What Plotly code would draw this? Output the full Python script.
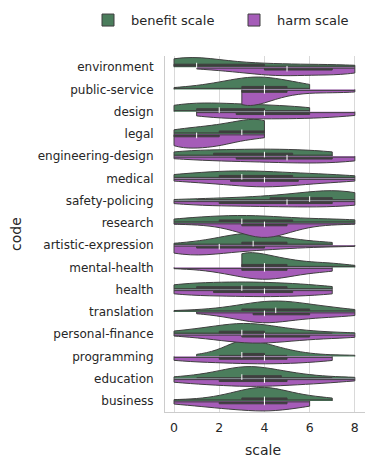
import numpy as np
import plotly.graph_objects as go

categories = ["environment", "public-service", "design", "legal", "engineering-design",
              "medical", "safety-policing", "research", "artistic-expression", "mental-health",
              "health", "translation", "personal-finance", "programming", "education", "business"]
scale_values = [0, 1, 2, 3, 4, 5, 6, 7, 8]
x_ticks = [0, 2, 4, 6, 8]

# number of responses at each scale value (0..8)
benefit_counts = [
    [10, 10, 4, 3, 3, 2, 2, 2, 2],   # environment
    [1, 2, 4, 7, 8, 5, 3, 0, 0],     # public-service
    [5, 5, 5, 4, 4, 3, 3, 0, 0],     # design
    [2, 3, 4, 6, 8, 0, 0, 0, 0],     # legal
    [3, 3, 3, 3, 4, 3, 3, 3, 0],     # engineering-design
    [3, 3, 4, 5, 4, 3, 3, 2, 2],     # medical
    [1, 1, 2, 2, 3, 4, 6, 8, 8],     # safety-policing
    [3, 3, 4, 5, 4, 3, 2, 2, 3],     # research
    [1, 2, 4, 8, 7, 4, 2, 2, 0],     # artistic-expression
    [0, 0, 0, 12, 8, 5, 3, 3, 1],    # mental-health
    [4, 4, 4, 5, 4, 4, 3, 2, 0],     # health
    [1, 1, 2, 4, 7, 7, 4, 3, 1],     # translation
    [2, 3, 5, 8, 6, 3, 2, 1, 1],     # personal-finance
    [0, 1, 4, 15, 10, 5, 2, 1, 1],   # programming
    [1, 2, 4, 9, 7, 4, 2, 1, 1],     # education
    [1, 1, 3, 7, 11, 6, 3, 2, 0],    # business
]
harm_counts = [
    [0, 1, 2, 3, 5, 6, 4, 5, 5],     # environment
    [0, 0, 0, 14, 8, 3, 2, 2, 2],    # public-service
    [0, 3, 4, 4, 4, 4, 4, 3, 3],     # design
    [7, 7, 6, 3, 2, 0, 0, 0, 0],     # legal
    [2, 2, 3, 3, 3, 4, 4, 4, 4],     # engineering-design
    [2, 2, 3, 4, 6, 4, 3, 2, 2],     # medical
    [2, 3, 3, 3, 3, 4, 3, 4, 4],     # safety-policing
    [1, 1, 2, 6, 12, 6, 2, 1, 1],    # research
    [7, 7, 5, 3, 3, 2, 1, 1, 1],     # artistic-expression
    [1, 1, 3, 6, 9, 6, 3, 3, 0],     # mental-health
    [3, 3, 3, 3, 4, 3, 3, 3, 0],     # health
    [0, 1, 2, 5, 9, 5, 4, 3, 3],     # translation
    [1, 2, 3, 6, 6, 4, 3, 2, 3],     # personal-finance
    [3, 3, 3, 4, 4, 4, 3, 3, 0],     # programming
    [3, 3, 4, 5, 5, 4, 3, 3, 1],     # education
    [2, 2, 4, 4, 6, 4, 3, 0, 0],     # business
]

GREEN = "#4b7d5c"
PURPLE = "#a55cb8"
DARK = "#3f3f3f"
TEXT = "#262626"
FONT = "DejaVu Sans"
FULL_WIDTH = 1.45      # width (data units) of the widest violin
BOX_FRAC = 0.24        # inner box thickness relative to the widest violin

n = len(categories)
positions = [n - 1 - i for i in range(n)]


def kde_info(counts):
    s = np.repeat(scale_values, counts).astype(float)
    bw = float(np.std(s, ddof=1) * len(s) ** (-0.2))  # Scott's rule, like seaborn
    grid = np.linspace(s.min(), s.max(), 400)
    dens = np.exp(-0.5 * ((grid[:, None] - s[None, :]) / bw) ** 2).sum(axis=1)
    dens /= (len(s) * bw * np.sqrt(2 * np.pi))
    return s, bw, float(dens.max())


series = [("benefit scale", benefit_counts, GREEN, "positive", 0.07),
          ("harm scale", harm_counts, PURPLE, "negative", -0.07)]
info = {name: [kde_info(c) for c in counts] for name, counts, *_ in series}
global_max = max(m for lst in info.values() for (_, _, m) in lst)

fig = go.Figure()
for name, counts, color, side, off in series:
    meds = []
    for k, (pos, (s, bw, kmax)) in enumerate(zip(positions, info[name])):
        meds.append(float(np.median(s)))
        ratio = kmax / global_max          # common density scale (equal areas)
        fig.add_trace(go.Violin(
            x=s, y=[pos] * len(s), orientation="h", name=name, side=side,
            legendgroup=name, showlegend=(k == 0),
            spanmode="hard", bandwidth=bw, width=FULL_WIDTH * ratio,
            points=False, fillcolor=color, opacity=1,
            line=dict(color=DARK, width=1),
            box=dict(visible=True, width=min(1.0, BOX_FRAC / ratio), fillcolor=DARK,
                     line=dict(color=DARK, width=1)),
            meanline=dict(visible=False), hoverinfo="skip",
        ))
    fig.add_trace(go.Scatter(
        x=meds, y=[p + off for p in positions], mode="markers", showlegend=False,
        marker=dict(symbol="line-ns", size=4, line=dict(color="white", width=1)),
        hoverinfo="skip",
    ))

fig.update_layout(
    width=365, height=456,
    margin=dict(l=157, r=8, t=48, b=52, autoexpand=False),
    paper_bgcolor="white", plot_bgcolor="white",
    violinmode="overlay", violingap=0, violingroupgap=0,
    font=dict(family=FONT, size=12, color=TEXT),
    legend=dict(orientation="h", x=-0.40, xanchor="left", y=1.143, yanchor="top",
                font=dict(size=13, color=TEXT), itemwidth=36,
                entrywidth=95, entrywidthmode="pixels", bgcolor="rgba(0,0,0,0)"),
    xaxis=dict(range=[-0.4, 8.45], tickvals=x_ticks, showgrid=True, gridcolor="#d9d9d9",
               gridwidth=1, zeroline=False, showline=True, linecolor="#cccccc",
               ticks="", ticklabelstandoff=4, tickfont=dict(size=12.5, color=TEXT)),
    yaxis=dict(range=[-0.5, n - 0.5], tickvals=positions, ticktext=categories,
               showgrid=False, zeroline=False, showline=True, linecolor="#cccccc",
               ticks="", ticklabelstandoff=8, tickfont=dict(size=12, color=TEXT)),
    annotations=[
        dict(text="scale", xref="paper", yref="paper", x=0.49, y=-0.106,
             xanchor="center", yanchor="middle", showarrow=False,
             font=dict(size=14, color=TEXT)),
        dict(text="code", xref="paper", yref="paper", x=-0.745, y=0.5, textangle=-90,
             xanchor="center", yanchor="middle", showarrow=False,
             font=dict(size=14, color=TEXT)),
    ],
)

fig.write_html("out.html")
